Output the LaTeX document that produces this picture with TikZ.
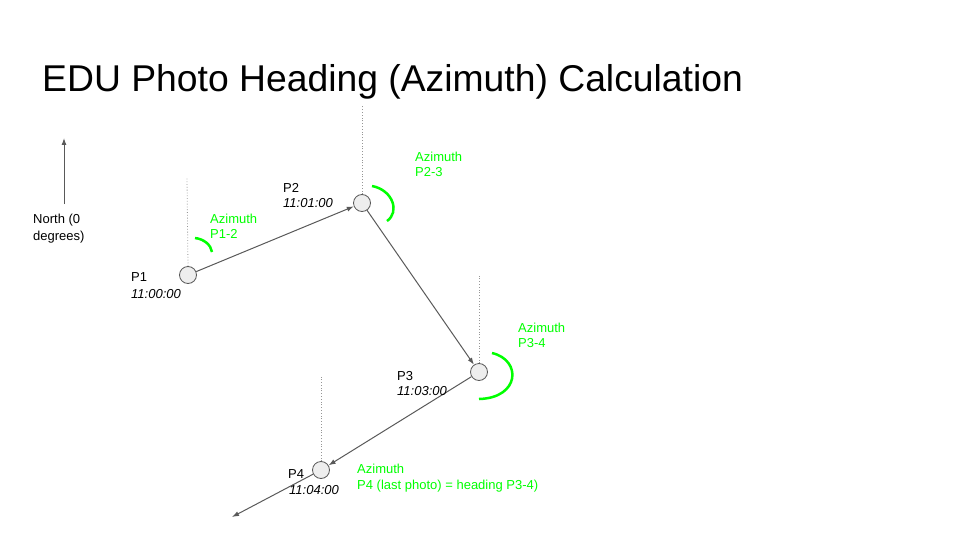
\documentclass[tikz,border=0pt]{standalone}
\usepackage{fontspec}
\setmainfont{Liberation Sans}
\usetikzlibrary{arrows.meta}
\definecolor{linegray}{RGB}{89,89,89}
\definecolor{dotgray}{RGB}{150,150,150}
\definecolor{nodefill}{RGB}{238,238,238}
\definecolor{azgreen}{RGB}{0,255,0}
\tikzset{
  photo/.style={circle,draw=linegray,fill=nodefill,minimum size=17pt,inner sep=0pt,line width=0.8pt},
  lbl/.style={anchor=base west,inner sep=0pt,font=\fontsize{13}{15}\selectfont},
  tlbl/.style={lbl,font=\fontsize{13}{15}\selectfont\itshape},
  glbl/.style={lbl,text=azgreen},
  conn/.style={draw=linegray,line width=1pt,-{Latex[length=7pt,width=5pt]}},
  northline/.style={dotted,draw=dotgray,line width=0.8pt},
  azarc/.style={draw=azgreen,line width=2.5pt}
}
\begin{document}
\begin{tikzpicture}[x=1pt,y=-1pt]
\useasboundingbox (0,0) rectangle (960,540);
\node[anchor=base west,inner sep=0pt,font=\fontsize{37.3}{44}\selectfont] (title) at (42,92) {EDU Photo Heading (Azimuth) Calculation};
% north arrow
\coordinate (nb) at (64,204);
\coordinate (nt) at (64,138);
\draw[conn] (nb) -- (nt);
\node[lbl] (north1) at (33,223) {North (0};
\node[lbl] (north2) at (33,240) {degrees)};
% north reference lines
\coordinate (d1) at (187,178);
\coordinate (d2) at (362,105);
\coordinate (d3) at (479,275);
\coordinate (d4) at (321,377);
% photo points
\node[photo] (p1) at (188,275) {};
\node[photo] (p2) at (362,203) {};
\node[photo] (p3) at (479,372) {};
\node[photo] (p4) at (321,470) {};
\draw[northline] (p1.north) -- (d1);
\draw[northline] (p2.north) -- (d2);
\draw[northline] (p3.north) -- (d3);
\draw[northline] (p4.north) -- (d4);
\coordinate (end) at (232,517);
\draw[conn] (p1) -- (p2);
\draw[conn] (p2) -- (p3);
\draw[conn] (p3) -- (p4);
\draw[conn] (p4) -- (end);
% labels
\node[lbl] (l1) at (131,281) {P1};
\node[tlbl] (t1) at (131,298) {11:00:00};
\node[lbl] (l2) at (283,192) {P2};
\node[tlbl] (t2) at (283,207) {11:01:00};
\node[lbl] (l3) at (397,380) {P3};
\node[tlbl] (t3) at (397,395) {11:03:00};
\node[lbl] (l4) at (288,478) {P4};
\node[tlbl] (t4) at (289,494) {11:04:00};
% azimuth arcs
\draw[azarc] (195,238) .. controls (204,239) and (211,245) .. (212,252);
\draw[azarc] (372,186) .. controls (393,190) and (400,212) .. (387,221);
\draw[azarc] (492,353) .. controls (522,360) and (520,398) .. (479,399);
% azimuth labels
\node[glbl] (a1) at (210,223) {Azimuth};
\node[glbl] (b1) at (210,238) {P1-2};
\node[glbl] (a2) at (415,161) {Azimuth};
\node[glbl] (b2) at (415,176) {P2-3};
\node[glbl] (a3) at (518,332) {Azimuth};
\node[glbl] (b3) at (518,347) {P3-4};
\node[glbl] (a4) at (357,473) {Azimuth};
\node[glbl] (b4) at (357,489) {P4 (last photo) = heading P3-4)};
\end{tikzpicture}
\end{document}
